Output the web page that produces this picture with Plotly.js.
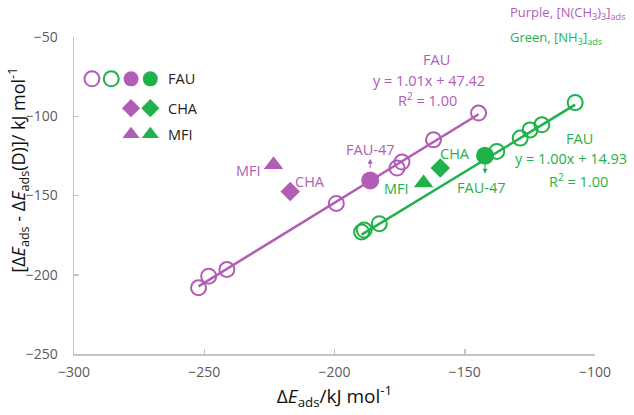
<!DOCTYPE html>
<html><head><meta charset="utf-8">
<script src="https://cdn.plot.ly/plotly-3.0.1.min.js"></script>
<style>body{margin:0;background:#fff}#c{width:634px;height:415px}</style>
</head><body><div id="c"></div>
<script>
const PURPLE = '#b15db5';
const GREEN = '#1fb24b';

// FAU open circles, [N(CH3)3]ads (purple)
const fauPurpleX = [-252.2, -248.3, -241.3, -199.3, -176.0, -174.1, -162.0, -144.7];
const fauPurpleY = [-208.2, -200.9, -196.7, -155.0, -132.7, -128.9, -114.9, -98.0];
// FAU open circles, [NH3]ads (green)
const fauGreenX = [-189.6, -188.6, -182.8, -137.7, -128.7, -124.9, -120.4, -107.6];
const fauGreenY = [-173.0, -171.8, -167.8, -122.2, -113.8, -108.6, -105.4, -91.4];
// FAU-47 filled circles
const fau47X = [-186.3, -142.2];
const fau47Y = [-140.5, -124.9];
// CHA diamonds
const chaX = [-217.0, -159.4];
const chaY = [-147.4, -132.7];
// MFI triangles
const mfiX = [-223.4, -165.8];
const mfiY = [-130.6, -142.1];
// linear fits (end points)
const fitPurpleX = [-252.2, -144.7];
const fitPurpleY = [-207.3, -98.7];
const fitGreenX = [-189.6, -107.6];
const fitGreenY = [-174.7, -92.7];
// legend key positions
const legCircX = [-293.1, -285.7, -278.1, -270.7];
const legCircY = [-76.4, -76.4, -76.4, -76.4];
const legShapeX = [-278.1, -270.7];
const legChaY = [-94.9, -94.9];
const legMfiY = [-111.3, -111.3];

const FONT = 'Open Sans, Noto Sans, sans-serif';

const traces = [
  {x: fitPurpleX, y: fitPurpleY, mode: 'lines', line: {color: PURPLE, width: 2.5}},
  {x: fitGreenX, y: fitGreenY, mode: 'lines', line: {color: GREEN, width: 2.5}},
  {x: fauPurpleX, y: fauPurpleY, mode: 'markers', marker: {symbol: 'circle-open', size: 15, color: PURPLE, line: {width: 2, color: PURPLE}}},
  {x: fauGreenX, y: fauGreenY, mode: 'markers', marker: {symbol: 'circle-open', size: 15, color: GREEN, line: {width: 2, color: GREEN}}},
  {x: fau47X, y: fau47Y, mode: 'markers', marker: {symbol: 'circle', size: 18, color: [PURPLE, GREEN]}},
  {x: chaX, y: chaY, mode: 'markers', marker: {symbol: 'diamond', size: 15, color: [PURPLE, GREEN]}},
  {x: mfiX, y: mfiY, mode: 'markers', marker: {symbol: 'triangle-up', size: 17, color: [PURPLE, GREEN]}},
  // legend keys
  {x: legCircX.slice(0,2), y: legCircY.slice(0,2), mode: 'markers', marker: {symbol: 'circle-open', size: 15, color: [PURPLE, GREEN], line: {width: 2, color: [PURPLE, GREEN]}}},
  {x: legCircX.slice(2), y: legCircY.slice(2), mode: 'markers', marker: {symbol: 'circle', size: 15, color: [PURPLE, GREEN]}},
  {x: legShapeX, y: legChaY, mode: 'markers', marker: {symbol: 'diamond', size: 14, color: [PURPLE, GREEN]}},
  {x: legShapeX, y: legMfiY, mode: 'markers', marker: {symbol: 'triangle-up', size: 15, color: [PURPLE, GREEN]}}
];

function txt(x, y, text, color, extra) {
  return Object.assign({x: x, y: y, xref: 'x', yref: 'y', text: text, showarrow: false,
    font: {family: FONT, size: 14.5, color: color}}, extra || {});
}

const annotations = [
  txt(-160.7, -64.5, 'FAU', PURPLE),
  txt(-163.9, -77.5, 'y = 1.01x + 47.42', PURPLE),
  txt(-164.2, -89.7, 'R<sup>2</sup> = 1.00', PURPLE),
  txt(-106.0, -113.8, 'FAU', GREEN),
  txt(-109.3, -126.4, 'y = 1.00x + 14.93', GREEN),
  txt(-106.4, -140.7, 'R<sup>2</sup> = 1.00', GREEN),
  txt(-186.3, -121.2, 'FAU-47', PURPLE),
  txt(-143.7, -145.1, 'FAU-47', GREEN),
  txt(-153.7, -123.7, 'CHA', GREEN),
  txt(-176.1, -145.3, 'MFI', GREEN),
  txt(-233.0, -134.2, 'MFI', PURPLE),
  txt(-209.3, -141.3, 'CHA', PURPLE),
  txt(-264.8, -76.4, 'FAU', '#222', {xanchor: 'left'}),
  txt(-264.8, -94.9, 'CHA', '#222', {xanchor: 'left'}),
  txt(-264.8, -111.3, 'MFI', '#222', {xanchor: 'left'}),
  {x: -186.3, y: -126.8, xref: 'x', yref: 'y', ax: 0, ay: 11, text: '', showarrow: true,
   arrowhead: 2, arrowsize: 1, arrowwidth: 1, arrowcolor: PURPLE, standoff: 0, startstandoff: 0},
  {x: -142.2, y: -136.3, xref: 'x', yref: 'y', ax: 0, ay: -11, text: '', showarrow: true,
   arrowhead: 2, arrowsize: 1, arrowwidth: 1, arrowcolor: GREEN, standoff: 0, startstandoff: 0},
  {x: 0.833, y: 1.115, xref: 'paper', yref: 'paper', xanchor: 'left', showarrow: false,
   text: 'Purple, [N(CH<sub>3</sub>)<sub>3</sub>]<sub>ads</sub>', font: {family: FONT, size: 13, color: PURPLE}},
  {x: 0.833, y: 1.035, xref: 'paper', yref: 'paper', xanchor: 'left', showarrow: false,
   text: 'Green, [NH<sub>3</sub>]<sub>ads</sub>', font: {family: FONT, size: 13, color: GREEN}},
  // y-axis title
  {x: -0.1064, y: 0.58, xref: 'paper', yref: 'paper', xanchor: 'center', yanchor: 'middle',
   textangle: -90, showarrow: false,
   text: '[Δ<i>E</i><sub>ads</sub> - Δ<i>E</i><sub>ads</sub>(D)]/ kJ mol<sup>-1</sup>',
   font: {family: FONT, size: 18, color: '#111'}}
];

const layout = {
  width: 634, height: 415,
  margin: {l: 73.5, r: 39, t: 37, b: 60.5},
  showlegend: false,
  paper_bgcolor: '#fff', plot_bgcolor: '#fff',
  font: {family: FONT},
  xaxis: {
    range: [-300, -100], tickvals: [-300, -250, -200, -150, -100],
    showgrid: false, zeroline: false, showline: true, linecolor: '#c4c4c4', linewidth: 1.5,
    ticks: 'inside', ticklen: 5, tickcolor: '#c4c4c4', tickwidth: 1.5, ticklabelstandoff: 5,
    tickfont: {family: FONT, size: 14, color: '#5a5a5a'},
    title: {text: 'Δ<i>E</i><sub>ads</sub>/kJ mol<sup>-1</sup>', font: {family: FONT, size: 19, color: '#111'}, standoff: 6}
  },
  yaxis: {
    range: [-250, -50], tickvals: [-250, -200, -150, -100, -50],
    showgrid: false, zeroline: false, showline: true, linecolor: '#c4c4c4', linewidth: 1.5,
    ticks: 'inside', ticklen: 5, tickcolor: '#c4c4c4', tickwidth: 1.5, ticklabelstandoff: 12,
    tickfont: {family: FONT, size: 14, color: '#5a5a5a'}
  },
  annotations: annotations
};

Plotly.newPlot('c', traces, layout, {displayModeBar: false, staticPlot: true});
</script></body></html>
